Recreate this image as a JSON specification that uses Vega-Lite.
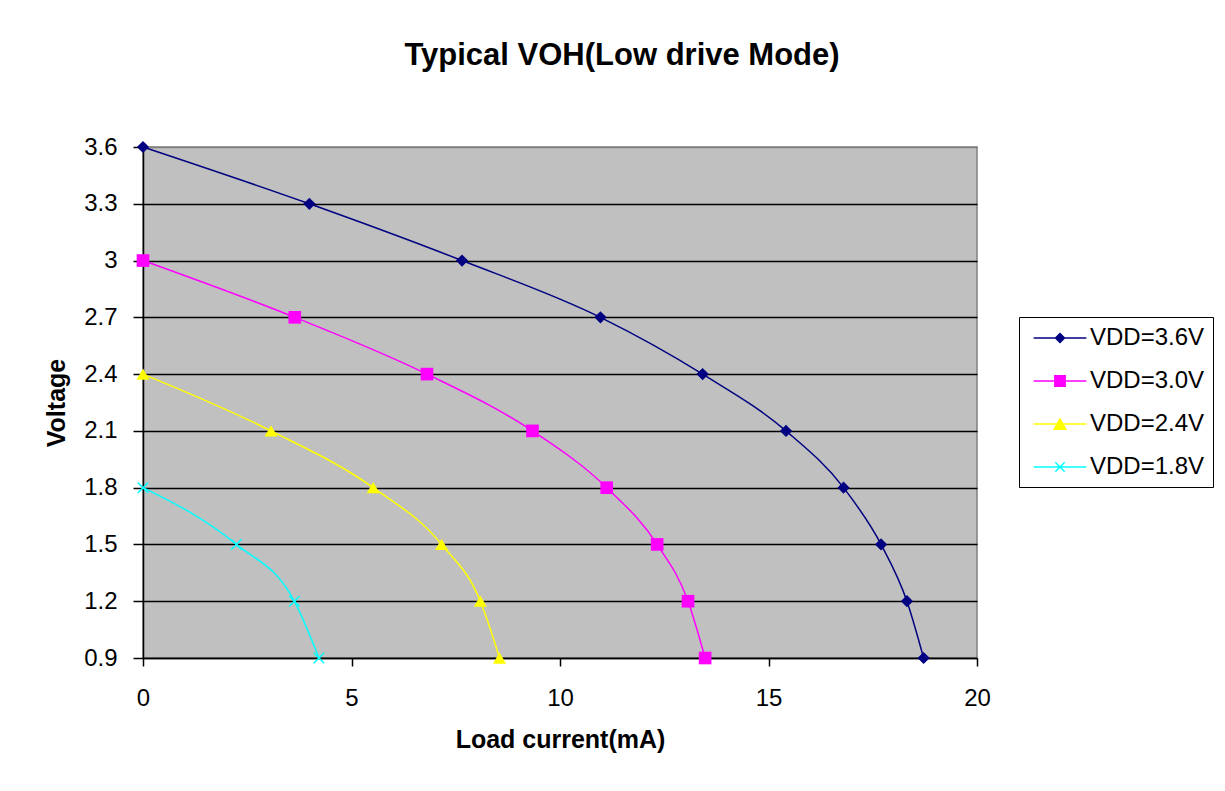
{
  "$schema": "https://vega.github.io/schema/vega-lite/v6.json",
  "autosize": {"type": "none"},
  "width": 834,
  "height": 511,
  "padding": {"left": 143, "top": 147, "right": 248, "bottom": 133},
  "background": "white",
  "title": {
    "text": "Typical VOH(Low drive Mode)",
    "font": "Liberation Sans",
    "fontSize": 31,
    "fontWeight": "bold",
    "color": "black",
    "anchor": "middle",
    "frame": "group",
    "dx": 62,
    "offset": 63
  },
  "config": {
    "view": {"fill": "#C0C0C0", "stroke": "#808080", "strokeWidth": 1.5},
    "font": "Liberation Sans"
  },
  "data": {
    "values": [
      {"series": "VDD=3.6V", "current": 0, "voltage": 3.6},
      {"series": "VDD=3.6V", "current": 3.99, "voltage": 3.3},
      {"series": "VDD=3.6V", "current": 7.65, "voltage": 3.0},
      {"series": "VDD=3.6V", "current": 10.97, "voltage": 2.7},
      {"series": "VDD=3.6V", "current": 13.42, "voltage": 2.4},
      {"series": "VDD=3.6V", "current": 15.42, "voltage": 2.1},
      {"series": "VDD=3.6V", "current": 16.8, "voltage": 1.8},
      {"series": "VDD=3.6V", "current": 17.7, "voltage": 1.5},
      {"series": "VDD=3.6V", "current": 18.32, "voltage": 1.2},
      {"series": "VDD=3.6V", "current": 18.72, "voltage": 0.9},
      {"series": "VDD=3.0V", "current": 0, "voltage": 3.0},
      {"series": "VDD=3.0V", "current": 3.64, "voltage": 2.7},
      {"series": "VDD=3.0V", "current": 6.81, "voltage": 2.4},
      {"series": "VDD=3.0V", "current": 9.34, "voltage": 2.1},
      {"series": "VDD=3.0V", "current": 11.12, "voltage": 1.8},
      {"series": "VDD=3.0V", "current": 12.33, "voltage": 1.5},
      {"series": "VDD=3.0V", "current": 13.07, "voltage": 1.2},
      {"series": "VDD=3.0V", "current": 13.48, "voltage": 0.9},
      {"series": "VDD=2.4V", "current": 0, "voltage": 2.4},
      {"series": "VDD=2.4V", "current": 3.07, "voltage": 2.1},
      {"series": "VDD=2.4V", "current": 5.52, "voltage": 1.8},
      {"series": "VDD=2.4V", "current": 7.16, "voltage": 1.5},
      {"series": "VDD=2.4V", "current": 8.09, "voltage": 1.2},
      {"series": "VDD=2.4V", "current": 8.55, "voltage": 0.9},
      {"series": "VDD=1.8V", "current": 0, "voltage": 1.8},
      {"series": "VDD=1.8V", "current": 2.24, "voltage": 1.5},
      {"series": "VDD=1.8V", "current": 3.63, "voltage": 1.2},
      {"series": "VDD=1.8V", "current": 4.22, "voltage": 0.9}
    ]
  },
  "encoding": {
    "x": {
      "field": "current",
      "type": "quantitative",
      "scale": {"domain": [0, 20], "nice": false, "zero": false},
      "axis": {
        "title": "Load current(mA)",
        "values": [0, 5, 10, 15, 20],
        "grid": false,
        "labelFlush": false,
        "domainColor": "black",
        "domainWidth": 1.5,
        "tickColor": "black",
        "tickWidth": 1.5,
        "tickSize": 8,
        "labelFont": "Liberation Sans",
        "labelFontSize": 24,
        "labelColor": "black",
        "labelPadding": 20,
        "titleFont": "Liberation Sans",
        "titleFontSize": 25,
        "titleFontWeight": "bold",
        "titleColor": "black",
        "titlePadding": 17
      }
    },
    "y": {
      "field": "voltage",
      "type": "quantitative",
      "scale": {"domain": [0.9, 3.6], "nice": false, "zero": false},
      "axis": {
        "title": "Voltage",
        "values": [0.9, 1.2, 1.5, 1.8, 2.1, 2.4, 2.7, 3.0, 3.3, 3.6],
        "format": ".1~f",
        "grid": true,
        "labelFlush": false,
        "gridColor": {"condition": {"test": "datum.value >= 3.59", "value": "#808080"}, "value": "black"},
        "gridWidth": 1.5,
        "gridOpacity": 1,
        "domainColor": "black",
        "domainWidth": 1.5,
        "tickColor": "black",
        "tickWidth": 1.5,
        "tickSize": 10,
        "labelFont": "Liberation Sans",
        "labelFontSize": 24,
        "labelColor": "black",
        "labelPadding": 16,
        "titleFont": "Liberation Sans",
        "titleFontSize": 25,
        "titleFontWeight": "bold",
        "titleColor": "black",
        "titlePadding": 14
      }
    },
    "color": {
      "field": "series",
      "type": "nominal",
      "scale": {
        "domain": ["VDD=3.6V", "VDD=3.0V", "VDD=2.4V", "VDD=1.8V"],
        "range": ["#000080", "#FF00FF", "#FFFF00", "#00FFFF"]
      },
      "legend": {
        "title": null,
        "orient": "none",
        "legendX": 876,
        "legendY": 170,
        "padding": 8,
        "strokeColor": "black",
        "fillColor": "white",
        "labelFont": "Liberation Sans",
        "labelFontSize": 24,
        "labelColor": "black",
        "labelOffset": 17,
        "rowPadding": 18,
        "symbolSize": 576,
        "symbolOffset": 20,
        "symbolStrokeWidth": 1.5,
        "symbolOpacity": 1,
        "encode": {
          "symbols": {
            "update": {
              "shape": {"signal": "datum.value === 'VDD=3.6V' ? 'M-2.2,0H2.2M0,-0.37L0.37,0L0,0.37L-0.37,0Z' : datum.value === 'VDD=3.0V' ? 'M-2.2,0H2.2M-0.43,-0.43H0.43V0.43H-0.43Z' : datum.value === 'VDD=2.4V' ? 'M-2.2,0H2.2M0,-0.43L0.48,0.43L-0.48,0.43Z' : 'M-2.2,0H2.2M-0.39,-0.39L0.39,0.39M-0.39,0.39L0.39,-0.39'"},
              "fill": {"scale": "color", "field": "value"},
              "stroke": {"scale": "color", "field": "value"},
              "fillOpacity": {"value": 1},
              "strokeOpacity": {"value": 1}
            }
          }
        }
      }
    }
  },
  "layer": [
    {
      "mark": {"type": "line", "interpolate": "monotone", "strokeWidth": 1.5}
    },
    {
      "transform": [{"filter": "datum.series === 'VDD=3.6V'"}],
      "mark": {"type": "point", "shape": "diamond", "filled": true, "opacity": 1, "size": 150}
    },
    {
      "transform": [{"filter": "datum.series === 'VDD=3.0V'"}],
      "mark": {"type": "point", "shape": "square", "filled": true, "opacity": 1, "size": 160}
    },
    {
      "transform": [{"filter": "datum.series === 'VDD=2.4V'"}],
      "mark": {"type": "point", "shape": "triangle-up", "filled": true, "opacity": 1, "size": 170}
    },
    {
      "transform": [{"filter": "datum.series === 'VDD=1.8V'"}],
      "mark": {"type": "point", "shape": "M-1,-1L1,1M-1,1L1,-1", "filled": false, "opacity": 1, "strokeWidth": 1.5, "size": 110}
    }
  ]
}
